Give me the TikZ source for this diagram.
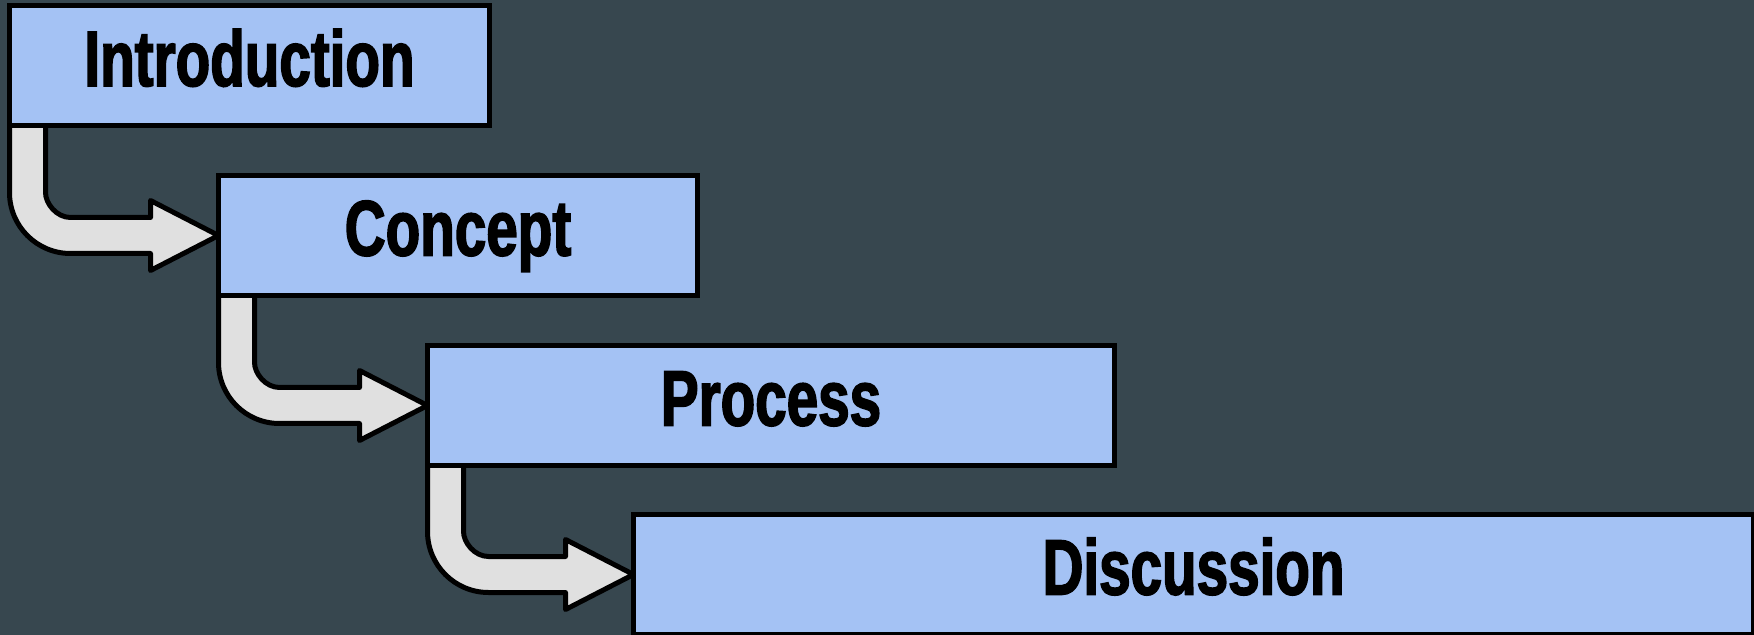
\documentclass[tikz,border=0pt]{standalone}
\usepackage{fontspec}
\newfontfamily\boxfont[FakeStretch=0.72,FakeBold=2]{Liberation Sans}
\usetikzlibrary{calc}
\definecolor{bgslate}{HTML}{37474F}
\definecolor{boxblue}{HTML}{A4C2F4}
\definecolor{arrowgray}{HTML}{E0E0E0}
\pgfdeclarelayer{backdrop}
\pgfdeclarelayer{arrowlayer}
\pgfsetlayers{backdrop,arrowlayer,main}
\tikzset{
  stagebox/.style={draw=black, line width=2.5pt, fill=boxblue, inner sep=0pt, outer sep=0pt,
    minimum height=60pt, text height=28pt, text depth=8pt,
    font=\boxfont\bfseries\fontsize{39.3pt}{42pt}\selectfont},
  bentarrowstyle/.style={draw=black, line width=2.5pt, fill=arrowgray, line join=round}
}
\newcommand{\bentarrow}[2]{%
  \draw[bentarrowstyle] let \p1=(#1.south west), \p2=(#2.west) in
    (\x1,\y1+3pt) -- (\x1,\y2+21.5pt)
    .. controls (\x1,\y2+4.66pt) and (\x1+13.66pt,\y2-9pt) .. (\x1+30.5pt,\y2-9pt)
    -- (\x2-34pt,\y2-9pt) -- (\x2-34pt,\y2-17.5pt) -- (\x2,\y2)
    -- (\x2-34pt,\y2+17.5pt) -- (\x2-34pt,\y2+9pt) -- (\x1+30.5pt,\y2+9pt)
    .. controls (\x1+23.6pt,\y2+9pt) and (\x1+18pt,\y2+15.9pt) .. (\x1+18pt,\y2+21.5pt)
    -- (\x1+18pt,\y1+3pt) -- cycle;}
\begin{document}
\begin{tikzpicture}[x=0.5pt,y=-0.5pt]
\begin{pgfonlayer}{backdrop}
  \fill[bgslate] (0,0) rectangle (1754,635);
\end{pgfonlayer}
\useasboundingbox (0,0) rectangle (1754,635);
\node[stagebox, minimum width=240pt] (intro) at (249.5,66) {Introduction};
\node[stagebox, minimum width=239.5pt] (concept) at (458,235.5) {Concept};
\node[stagebox, minimum width=343.5pt] (process) at (771,405.5) {Process};
\node[stagebox, minimum width=560pt] (discussion) at (1193.5,574.5) {Discussion};
\begin{pgfonlayer}{arrowlayer}
  \bentarrow{intro}{concept}
  \bentarrow{concept}{process}
  \bentarrow{process}{discussion}
\end{pgfonlayer}
\end{tikzpicture}
\end{document}
